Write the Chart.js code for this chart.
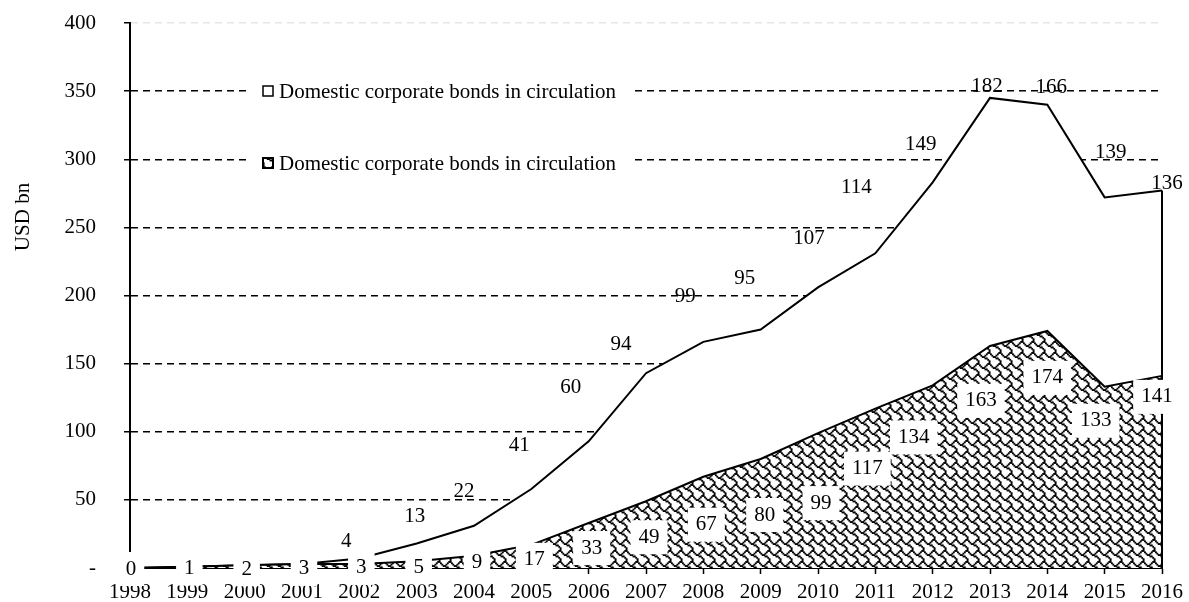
<!DOCTYPE html>
<html>
<head>
<meta charset="utf-8">
<script src="https://cdn.jsdelivr.net/npm/chart.js@4.4.0/dist/chart.umd.min.js"></script>
<style>
  html, body { margin: 0; padding: 0; background: #fff; overflow: hidden; }
  canvas { display: block; }
</style>
</head>
<body>
<canvas id="bondsChart" width="1189" height="602"></canvas>
<script>
// Domestic corporate bonds in circulation, USD bn, two stacked bands
const years = ['1998', '1999', '2000', '2001', '2002', '2003', '2004', '2005', '2006', '2007',
               '2008', '2009', '2010', '2011', '2012', '2013', '2014', '2015', '2016'];
const lowerSeries = [0, 1, 2, 3, 3, 5, 9, 17, 33, 49, 67, 80, 99, 117, 134, 163, 174, 133, 141];
const upperSeries = [null, null, null, null, 4, 13, 22, 41, 60, 94, 99, 95, 107, 114, 149, 182, 166, 139, 136];
const yTicks = [0, 50, 100, 150, 200, 250, 300, 350, 400];
const seriesName = 'Domestic corporate bonds in circulation';
const axisTitle = 'USD bn';

// where each value label sits, in px from its plotted point
const lowerNudge = [[1, 1], [2, 2], [2, 4], [2, 5], [2, 4], [2, 6], [3, 7], [3, 15], [3, 25], [3, 36],
                    [3, 48], [4, 56], [3, 70], [-8, 60], [-19, 52], [-9, 55], [0, 47], [-9, 34], [-5, 21]];
const upperNudge = [null, null, null, null, [-13, -17], [-2, -27], [-10, -34], [-12, -43], [-18, -54], [-25, -29],
                    [-18, -45], [-16, -51], [-9, -49], [-19, -66], [-12, -38], [-3, -11], [4, -17], [6, -45], [5, -7]];

const FONT = '21px "Liberation Serif", "Times New Roman", serif';

const canvas = document.getElementById('bondsChart');
const ctx = canvas.getContext('2d');

// shingle hatch: 8x8 bitmap, one byte per row, blown up a little
const shingleRows = [0x03, 0x84, 0x48, 0x30, 0x0c, 0x02, 0x01, 0x01];
function makeHatch() {
    const size = 11;
    const k = size / 8;
    const tile = document.createElement('canvas');
    tile.width = size;
    tile.height = size;
    const t = tile.getContext('2d');
    t.fillStyle = '#fff';
    t.fillRect(0, 0, size, size);
    t.fillStyle = '#000';
    shingleRows.forEach((row, yy) => {
        for (let xx = 0; xx < 8; xx++) {
            if (!(row & (0x80 >> xx))) continue;
            // wrap copies so dots on the edge stay whole
            for (const dx of [-size, 0, size]) {
                for (const dy of [-size, 0, size]) {
                    t.fillRect(xx * k + dx, yy * k + dy, k + 0.5, k + 0.5);
                }
            }
        }
    });
    return ctx.createPattern(tile, 'repeat');
}
const hatch = makeHatch();

const bandLabels = {
    id: 'bandLabels',
    afterDatasetsDraw(chart) {
        const c = chart.ctx;
        const x = chart.scales.x;
        const y = chart.scales.y;
        const last = years.length - 1;
        c.save();

        // closing edge of both bands at the last year
        c.strokeStyle = '#000';
        c.lineWidth = 2;
        c.beginPath();
        c.moveTo(x.getPixelForValue(last), y.getPixelForValue(0));
        c.lineTo(x.getPixelForValue(last), y.getPixelForValue(lowerSeries[last] + upperSeries[last]));
        c.stroke();

        c.font = FONT;
        c.textAlign = 'center';
        c.textBaseline = 'middle';

        lowerSeries.forEach((v, i) => {
            const px = x.getPixelForValue(i) + lowerNudge[i][0];
            const py = y.getPixelForValue(v) + lowerNudge[i][1];
            const w = c.measureText(String(v)).width + 16;
            c.fillStyle = '#fff';
            c.fillRect(px - w / 2, py - 17, w, 34);
            c.fillStyle = '#000';
            c.fillText(String(v), px, py);
        });

        upperSeries.forEach((v, i) => {
            if (v == null) return;
            const px = x.getPixelForValue(i) + upperNudge[i][0];
            const py = y.getPixelForValue(lowerSeries[i] + v) + upperNudge[i][1];
            c.fillStyle = '#000';
            c.fillText(String(v), px, py);
        });

        // legend box sitting over the grid
        c.fillStyle = '#fff';
        c.fillRect(250, 72, 383, 108);
        c.lineWidth = 1.5;
        c.fillStyle = '#fff';
        c.fillRect(263, 86, 10, 10);
        c.strokeRect(263, 86, 10, 10);
        c.fillStyle = hatch;
        c.fillRect(263, 158, 10, 10);
        c.lineWidth = 2;
        c.strokeRect(263, 158, 10, 10);
        c.fillStyle = '#000';
        c.textAlign = 'left';
        c.fillText(seriesName, 279, 92);
        c.fillText(seriesName, 279, 164);

        // y axis title
        c.translate(23, 217);
        c.rotate(-Math.PI / 2);
        c.textAlign = 'center';
        c.fillText(axisTitle, 0, 0);
        c.restore();
    }
};

new Chart(ctx, {
    type: 'line',
    data: {
        labels: years,
        datasets: [{
            label: seriesName,
            data: lowerSeries,
            fill: 'origin',
            backgroundColor: hatch,
            borderColor: '#000',
            borderWidth: 2
        }, {
            label: seriesName,
            data: upperSeries.map(v => v ?? 0),
            fill: '-1',
            backgroundColor: '#fff',
            borderColor: '#000',
            borderWidth: 2
        }]
    },
    options: {
        responsive: false,
        animation: false,
        layout: { padding: { left: 0, right: 26, top: 23, bottom: 0 } },
        elements: { point: { radius: 0, hoverRadius: 0 }, line: { tension: 0 } },
        plugins: { legend: { display: false }, tooltip: { enabled: false } },
        scales: {
            x: {
                offset: false,
                grid: { drawOnChartArea: false, tickLength: 6, tickColor: '#000', tickWidth: 1.5 },
                border: { display: true, color: '#000', width: 2 },
                ticks: { color: '#000', font: { family: '"Liberation Serif"', size: 21 }, padding: 6, maxRotation: 0, autoSkip: false },
                afterFit: s => { s.height = 34; }
            },
            y: {
                stacked: true,
                min: 0,
                max: 400,
                afterBuildTicks: s => { s.ticks = yTicks.map(v => ({ value: v })); },
                grid: {
                    color: c => !c.tick ? '#000' : c.tick.value === 0 ? 'rgba(0,0,0,0)' : c.tick.value === 400 ? '#e6e6e6' : '#000',
                    lineWidth: 1.5,
                    tickLength: 6,
                    tickColor: '#000',
                    tickWidth: 1.5,
                    tickBorderDash: []
                },
                border: { display: true, color: '#000', width: 2, dash: [7, 5] },
                ticks: {
                    color: '#000',
                    font: { family: '"Liberation Serif"', size: 21 },
                    padding: 28,
                    callback: v => v === 0 ? '-' : v
                },
                afterFit: s => {
                    s.width = 130;
                    s.paddingTop = 0;
                    s.paddingBottom = 0;
                }
            }
        }
    },
    plugins: [bandLabels]
});
</script>
</body>
</html>
